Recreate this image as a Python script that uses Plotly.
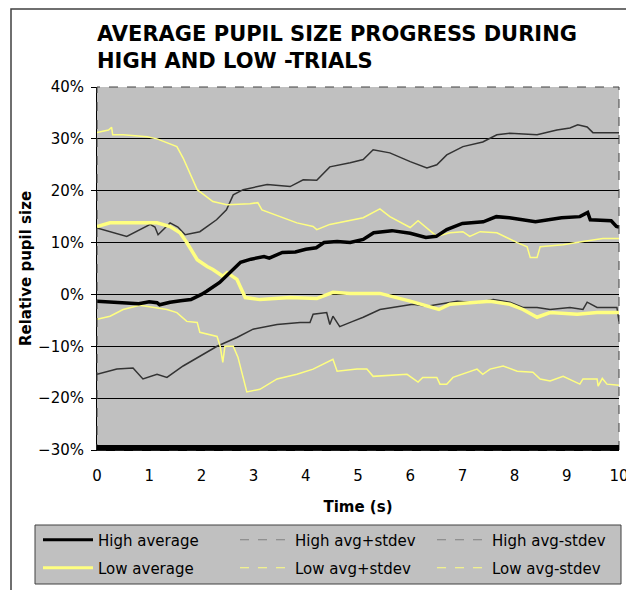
import plotly.graph_objects as go

# ---- data (time in seconds, relative pupil size in %) ----
high_avg_t = [0, 0.5, 0.8, 1.0, 1.15, 1.2, 1.4, 1.6, 1.8, 2.0, 2.1, 2.35, 2.5, 2.6, 2.75, 2.95, 3.2, 3.3,
              3.55, 3.8, 4.0, 4.2, 4.35, 4.6, 4.85, 5.1, 5.3, 5.65, 6.0, 6.3, 6.5, 6.7, 7.0, 7.4, 7.65,
              7.9, 8.4, 8.9, 9.25, 9.4, 9.45, 9.85, 9.95, 10]
high_avg_v = [-1.3, -1.6, -1.8, -1.4, -1.6, -2.0, -1.5, -1.2, -1.0, 0.0, 0.6, 2.3, 3.8, 4.8, 6.2, 6.8, 7.3, 7.0,
              8.1, 8.2, 8.7, 9.0, 10.0, 10.2, 10.0, 10.6, 11.9, 12.3, 11.8, 11.0, 11.2, 12.5, 13.7, 14.0, 15.0,
              14.8, 14.0, 14.8, 15.0, 15.8, 14.4, 14.2, 13.1, 13.0]

high_plus_t = [0, 0.57, 1.02, 1.11, 1.17, 1.40, 1.55, 1.69, 1.97, 2.29, 2.48, 2.61, 2.80, 2.99, 3.26, 3.70,
               3.95, 4.21, 4.46, 4.85, 5.10, 5.29, 5.61, 6.00, 6.32, 6.51, 6.70, 7.01, 7.39, 7.66, 7.91,
               8.43, 8.81, 9.06, 9.21, 9.39, 9.50, 9.77, 10]
high_plus_v = [12.8, 11.2, 13.5, 13.0, 11.5, 13.8, 13.0, 11.5, 12.1, 14.4, 16.3, 19.2, 20.2, 20.6, 21.2, 20.8,
               22.1, 22.0, 24.6, 25.4, 26.0, 27.9, 27.3, 25.6, 24.4, 25.0, 26.9, 28.5, 29.4, 30.8, 31.1,
               30.8, 31.7, 32.1, 32.7, 32.3, 31.2, 31.2, 31.2]

high_minus_t = [0, 0.38, 0.69, 0.88, 1.15, 1.34, 1.65, 1.97, 2.30, 2.68, 2.99, 3.45, 3.89, 4.08, 4.14, 4.40,
                4.46, 4.52, 4.65, 4.90, 5.10, 5.42, 5.80, 6.05, 6.32, 6.57, 6.90, 7.28, 7.59, 7.91, 8.16,
                8.43, 8.68, 9.06, 9.31, 9.39, 9.58, 9.96, 10]
high_minus_v = [-15.4, -14.4, -14.2, -16.3, -15.4, -16.0, -13.8, -11.9, -10.0, -8.3, -6.7, -5.8, -5.4, -5.4,
                -3.8, -3.5, -5.8, -4.2, -6.2, -5.2, -4.4, -2.9, -2.3, -1.9, -2.3, -1.9, -1.3, -1.6, -1.0,
                -1.5, -2.5, -2.5, -2.9, -2.5, -2.9, -1.5, -2.5, -2.5, -5.2]

low_avg_t = [0, 0.25, 0.69, 1.15, 1.40, 1.59, 1.72, 1.92, 2.11, 2.22, 2.41, 2.49, 2.68, 2.84, 3.12, 3.70,
             4.21, 4.52, 4.85, 5.42, 6.00, 6.55, 6.76, 7.53, 7.91, 8.16, 8.43, 8.68, 9.20, 9.58, 10]
low_avg_v = [13.1, 13.8, 13.8, 13.8, 13.1, 11.9, 10.0, 6.7, 5.4, 4.8, 3.5, 4.2, 2.9, -0.6, -1.0, -0.6,
             -0.8, 0.4, 0.2, 0.2, -1.3, -2.9, -1.9, -1.3, -1.9, -2.9, -4.4, -3.5, -3.8, -3.5, -3.5]

low_plus_t = [0, 0.22, 0.28, 0.30, 0.50, 0.96, 1.15, 1.53, 1.65, 1.78, 1.92, 2.22, 2.49, 2.93, 3.08, 3.16,
              3.50, 3.83, 4.14, 4.21, 4.46, 4.71, 4.98, 5.10, 5.42, 5.61, 6.00, 6.15, 6.51, 6.76, 7.01,
              7.14, 7.34, 7.66, 8.05, 8.24, 8.30, 8.43, 8.49, 8.93, 9.31, 9.69, 10]
low_plus_v = [31.2, 31.7, 32.2, 30.8, 30.8, 30.4, 30.0, 28.5, 26.3, 23.5, 20.2, 17.9, 17.3, 17.5, 17.7, 16.3,
              15.0, 13.8, 13.1, 12.5, 13.5, 14.0, 14.6, 14.8, 16.5, 15.0, 12.9, 14.2, 11.2, 11.9, 12.1,
              11.2, 12.1, 11.9, 10.0, 9.2, 7.1, 7.1, 9.2, 9.6, 10.2, 10.8, 10.8]

low_minus_t = [0, 0.25, 0.50, 0.82, 1.34, 1.53, 1.72, 1.92, 1.97, 2.30, 2.36, 2.41, 2.45, 2.61, 2.70, 2.84,
               2.87, 3.12, 3.45, 3.83, 4.14, 4.52, 4.60, 4.98, 5.17, 5.29, 5.94, 6.15, 6.24, 6.51, 6.57,
               6.70, 6.82, 7.28, 7.39, 7.53, 7.78, 8.05, 8.35, 8.49, 8.68, 8.93, 9.25, 9.31, 9.58, 9.60,
               9.68, 9.77, 10]
low_minus_v = [-4.8, -4.2, -2.9, -2.1, -2.9, -3.5, -5.2, -5.4, -7.3, -8.1, -10.0, -13.1, -10.0, -10.0, -12.1,
               -17.9, -18.8, -18.3, -16.3, -15.4, -14.4, -12.5, -14.8, -14.4, -14.4, -15.8, -15.4, -16.9,
               -16.0, -16.0, -17.3, -17.3, -16.0, -14.4, -15.4, -14.4, -13.8, -14.8, -15.0, -16.3, -16.7,
               -15.8, -17.3, -16.3, -16.3, -17.7, -16.2, -17.3, -17.5]

legend_names = ["High average", "High avg+stdev", "High avg-stdev",
                "Low average", "Low avg+stdev", "Low avg-stdev"]

FONT = "DejaVu Sans"
YEL = "#FFFF80"
OFF = 8  # page body margin: figure origin sits at page (8, 8)
W, H = 626, 582
L, R, T, B = 89, 15, 79, 140
PW, PH = W - L - R, H - T - B


def px_x(p):  # page pixel -> paper x
    return (p - OFF - L) / PW


def px_y(p):  # page pixel -> paper y
    return (H - B - (p - OFF)) / PH


fig = go.Figure()

# plotted series (no legend)
fig.add_trace(go.Scatter(x=high_plus_t, y=high_plus_v, mode="lines",
                         line=dict(color="#333333", width=1.5), showlegend=False))
fig.add_trace(go.Scatter(x=high_minus_t, y=high_minus_v, mode="lines",
                         line=dict(color="#333333", width=1.5), showlegend=False))
fig.add_trace(go.Scatter(x=low_plus_t, y=low_plus_v, mode="lines",
                         line=dict(color=YEL, width=1.5), showlegend=False))
fig.add_trace(go.Scatter(x=low_minus_t, y=low_minus_v, mode="lines",
                         line=dict(color=YEL, width=1.5), showlegend=False))
fig.add_trace(go.Scatter(x=low_avg_t, y=low_avg_v, mode="lines",
                         line=dict(color=YEL, width=3.5), showlegend=False))
fig.add_trace(go.Scatter(x=high_avg_t, y=high_avg_v, mode="lines",
                         line=dict(color="black", width=3.5), showlegend=False))

# legend entries
leg_styles = [
    dict(color="black", width=3, dash="solid"),
    dict(color="#808080", width=1.2, dash="dash"),
    dict(color="#808080", width=1.2, dash="dash"),
    dict(color=YEL, width=3, dash="solid"),
    dict(color=YEL, width=1.2, dash="dash"),
    dict(color=YEL, width=1.2, dash="dash"),
]
for i, (nm, st) in enumerate(zip(legend_names, leg_styles)):
    fig.add_trace(go.Scatter(x=[None], y=[None], mode="lines", name=nm, line=st,
                             legend="legend" if i < 3 else "legend2"))

shapes = [
    # outer chart frame
    dict(type="rect", xref="paper", yref="paper", x0=px_x(11), x1=1.6, y0=-1.6, y1=px_y(9),
         line=dict(color="#404040", width=1.5), fillcolor="rgba(0,0,0,0)", layer="below"),
    # legend box
    dict(type="rect", xref="paper", yref="paper", x0=px_x(35), x1=px_x(621), y0=px_y(584), y1=px_y(525),
         line=dict(color="#404040", width=1), fillcolor="#C0C0C0", layer="below"),
    # plot-area dashed border
    dict(type="rect", xref="paper", yref="paper", x0=0, x1=1, y0=0, y1=1,
         line=dict(color="#404040", width=1, dash="dash"), fillcolor="rgba(0,0,0,0)", layer="above"),
    # thick band along the floor of the plot
    dict(type="rect", xref="x", yref="y", x0=0, x1=10, y0=-30, y1=-29.05,
         line=dict(width=0), fillcolor="black", layer="above"),
]

leg_common = dict(orientation="h", bgcolor="rgba(0,0,0,0)", borderwidth=0,
                  font=dict(family=FONT, size=15, color="black"),
                  xanchor="left", yanchor="middle", entrywidth=132, entrywidthmode="pixels",
                  itemwidth=50, tracegroupgap=0)

fig.update_layout(
    width=W, height=H,
    margin=dict(l=L, r=R, t=T, b=B, autoexpand=False),
    paper_bgcolor="white", plot_bgcolor="#C0C0C0",
    font=dict(family=FONT, size=15, color="black"),
    title=dict(text="<b>AVERAGE PUPIL SIZE PROGRESS DURING<br>HIGH AND LOW -TRIALS</b>",
               font=dict(family=FONT, size=21, color="black"),
               x=0, xref="paper", xanchor="left", y=1 - 33 / H, yref="container", yanchor="middle"),
    xaxis=dict(range=[0, 10], dtick=1, tick0=0, showgrid=False, zeroline=False,
               showline=True, linecolor="black", linewidth=1, ticks="", ticklabelstandoff=12,
               tickfont=dict(family=FONT, size=15),
               title=dict(text="<b>Time (s)</b>", font=dict(family=FONT, size=15), standoff=17)),
    yaxis=dict(range=[-30, 40], dtick=10, tick0=0, showgrid=True, gridcolor="black", gridwidth=1,
               zeroline=False, showline=True, linecolor="black", linewidth=1,
               ticks="outside", ticklen=5, tickcolor="black", ticksuffix="%", ticklabelstandoff=4,
               tickfont=dict(family=FONT, size=15),
               title=dict(text="<b>Relative pupil size</b>", font=dict(family=FONT, size=15), standoff=2)),
    legend=dict(x=px_x(38), y=px_y(540), **leg_common),
    legend2=dict(x=px_x(38), y=px_y(568), **leg_common),
    shapes=shapes,
)

fig.write_html("out.html")
